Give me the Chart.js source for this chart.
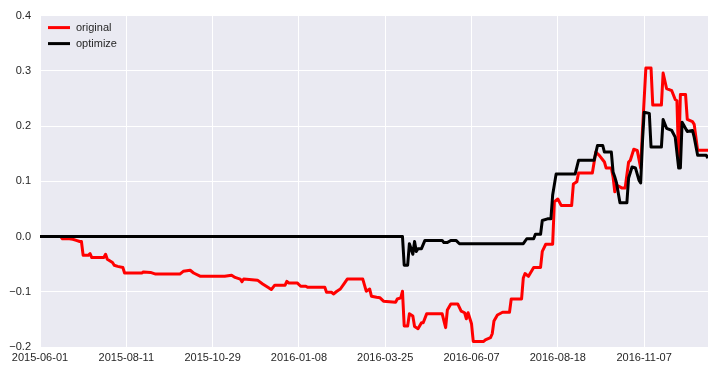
<!DOCTYPE html>
<html>
<head>
<meta charset="utf-8">
<script src="https://cdn.jsdelivr.net/npm/chart.js@4/dist/chart.umd.min.js"></script>
<style>
  body { margin: 0; background: #fff; }
  #chart { display: block; }
</style>
</head>
<body>
<canvas id="chart" width="715" height="371"></canvas>
<script>
// trading-day index on x, labels every 50 days
const tickLabels = ["2015-06-01", "2015-08-11", "2015-10-29", "2016-01-08",
  "2016-03-25", "2016-06-07", "2016-08-18", "2016-11-07"];
const tickPos = [0, 50, 100, 150, 200, 250, 300, 350];
const lastIndex = 387;

const originalIdx = [0, 12, 13, 17, 19, 21, 23, 24, 25, 28, 29, 30, 37, 38, 39, 42, 43, 45, 48, 49,
  59, 60, 64, 67, 81, 83, 87, 89, 93, 107, 111, 113, 116, 117, 118, 126, 129, 132, 134, 136,
  142, 143, 144, 149, 151, 154, 155, 165, 166, 169, 170, 172, 174, 176, 178, 187, 189, 191, 192, 195,
  197, 199, 206, 207, 209, 210, 211, 213, 214, 216, 217, 219, 221, 222, 224, 233, 235, 236, 238, 242,
  244, 246, 247, 248, 250, 251, 257, 258, 261, 262, 263, 265, 268, 272, 273, 279, 280, 281, 283, 286,
  290, 291, 293, 297, 298, 300, 302, 308, 309, 311, 312, 320, 322, 324, 327, 328, 331, 332, 333, 334,
  337, 339, 341, 342, 344, 346, 348, 349, 351, 354, 355, 360, 361, 363, 366, 368, 369, 370, 371, 374,
  375, 378, 379, 381, 387];
const originalVal = [0, 0, -0.004, -0.004, -0.005, -0.007, -0.009, -0.009, -0.034, -0.034, -0.031, -0.038, -0.038, -0.032, -0.041, -0.047, -0.052, -0.054, -0.056, -0.066,
  -0.066, -0.064, -0.065, -0.068, -0.068, -0.063, -0.061, -0.066, -0.072, -0.072, -0.070, -0.074, -0.077, -0.082, -0.077, -0.079, -0.086, -0.092, -0.096, -0.088,
  -0.088, -0.081, -0.084, -0.084, -0.090, -0.090, -0.092, -0.092, -0.101, -0.101, -0.104, -0.099, -0.095, -0.086, -0.077, -0.077, -0.099, -0.095, -0.108, -0.110,
  -0.111, -0.117, -0.119, -0.113, -0.111, -0.099, -0.162, -0.162, -0.140, -0.144, -0.163, -0.167, -0.156, -0.156, -0.140, -0.140, -0.165, -0.133, -0.122, -0.122,
  -0.135, -0.138, -0.149, -0.138, -0.158, -0.190, -0.190, -0.187, -0.183, -0.176, -0.153, -0.142, -0.137, -0.137, -0.113, -0.113, -0.075, -0.067, -0.072, -0.056,
  -0.056, -0.027, -0.014, -0.014, 0.063, 0.068, 0.056, 0.056, 0.095, 0.099, 0.115, 0.115, 0.153, 0.147, 0.135, 0.124, 0.124, 0.108, 0.081, 0.093,
  0.088, 0.088, 0.135, 0.138, 0.158, 0.156, 0.124, 0.190, 0.305, 0.305, 0.238, 0.238, 0.296, 0.268, 0.264, 0.248, 0.246, 0.135, 0.257, 0.257,
  0.212, 0.208, 0.203, 0.156, 0.156];

const optimizeIdx = [0, 210, 211, 213, 214, 216, 217, 218, 219, 221, 223, 233, 234, 236, 238, 241, 243, 280, 282, 286,
  287, 290, 291, 294, 296, 297, 299, 310, 312, 321, 323, 326, 327, 331, 332, 333, 334, 336, 340, 341,
  343, 345, 347, 348, 349, 350, 353, 354, 360, 361, 363, 366, 368, 370, 371, 372, 375, 378, 379, 381,
  386, 387];
const optimizeVal = [0, 0, -0.052, -0.052, -0.013, -0.032, -0.009, -0.027, -0.022, -0.022, -0.007, -0.007, -0.011, -0.011, -0.007, -0.007, -0.013, -0.013, -0.004, -0.004,
  0.004, 0.004, 0.029, 0.032, 0.032, 0.075, 0.113, 0.113, 0.138, 0.138, 0.165, 0.165, 0.153, 0.153, 0.117, 0.108, 0.097, 0.061, 0.061, 0.106,
  0.126, 0.124, 0.102, 0.097, 0.169, 0.225, 0.223, 0.162, 0.162, 0.212, 0.196, 0.192, 0.180, 0.124, 0.124, 0.207, 0.190, 0.192, 0.180, 0.147,
  0.147, 0.142];

const textColor = "#262626";
const tickFont = { family: "'Liberation Sans', Arial, sans-serif", size: 11 };

function toPoints(xs, ys) {
  return xs.map((x, i) => ({ x: x, y: ys[i] }));
}

// seaborn style grey plot area
const plotBackground = {
  id: "plotBackground",
  beforeDraw(chart) {
    const { ctx, chartArea } = chart;
    ctx.save();
    ctx.fillStyle = "#EAEAF2";
    ctx.fillRect(chartArea.left, chartArea.top, chartArea.width, chartArea.height);
    ctx.restore();
  },
};

// legend drawn inside the plot, top left
const innerLegend = {
  id: "innerLegend",
  afterDraw(chart) {
    const { ctx, chartArea } = chart;
    ctx.save();
    ctx.font = "11px " + tickFont.family;
    ctx.textBaseline = "middle";
    chart.data.datasets.forEach((ds, i) => {
      const y = chartArea.top + 12 + i * 16;
      ctx.strokeStyle = ds.borderColor;
      ctx.lineWidth = ds.borderWidth;
      ctx.beginPath();
      ctx.moveTo(chartArea.left + 8, y);
      ctx.lineTo(chartArea.left + 30, y);
      ctx.stroke();
      ctx.fillStyle = textColor;
      ctx.fillText(ds.label, chartArea.left + 36, y);
    });
    ctx.restore();
  },
};

new Chart(document.getElementById("chart"), {
  type: "line",
  data: {
    datasets: [
      {
        label: "original",
        data: toPoints(originalIdx, originalVal),
        borderColor: "#FF0000",
        borderWidth: 3,
        order: 1,
      },
      {
        label: "optimize",
        data: toPoints(optimizeIdx, optimizeVal),
        borderColor: "#000000",
        borderWidth: 3,
        order: 0,
      },
    ],
  },
  options: {
    responsive: false,
    animation: false,
    layout: { padding: { left: 0, right: 7, top: 12, bottom: 0 } },
    elements: {
      point: { radius: 0 },
      line: { tension: 0, borderJoinStyle: "round", borderCapStyle: "butt" },
    },
    plugins: {
      legend: { display: false },
      tooltip: { enabled: false },
    },
    scales: {
      x: {
        type: "linear",
        min: 0,
        max: lastIndex,
        afterBuildTicks: (axis) => {
          axis.ticks = tickPos.map((v) => ({ value: v }));
        },
        afterFit: (axis) => {
          axis.height = 24;
        },
        grid: { color: "#FFFFFF", lineWidth: 1, drawTicks: false },
        border: { display: false },
        ticks: {
          color: textColor,
          font: tickFont,
          padding: 4,
          maxRotation: 0,
          autoSkip: false,
          callback: (v) => tickLabels[tickPos.indexOf(v)] || "",
        },
      },
      y: {
        min: -0.2,
        max: 0.4,
        afterFit: (axis) => {
          axis.width = 40;
        },
        grid: { color: "#FFFFFF", lineWidth: 1, drawTicks: false },
        border: { display: false },
        ticks: {
          stepSize: 0.1,
          color: textColor,
          font: tickFont,
          padding: 9,
          callback: (v) => v.toFixed(1).replace("-", "\u2212"),
        },
      },
    },
  },
  plugins: [plotBackground, innerLegend],
});
</script>
</body>
</html>
